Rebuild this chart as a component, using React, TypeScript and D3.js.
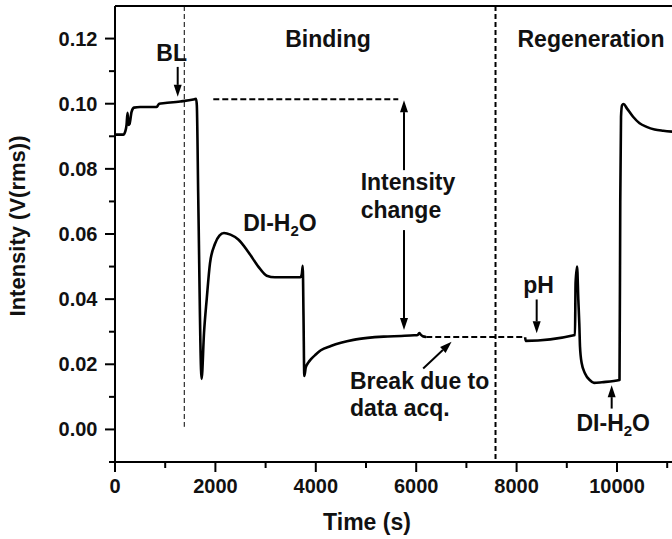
import React from 'react';
import * as d3 from 'd3';

// ---- data (time in s, intensity in V(rms)) ----
const bindingTime = [0, 165, 205, 230, 250, 270, 290, 330, 378, 500, 830, 880, 1000, 1300, 1560, 1615, 1630, 1659, 1725, 1773, 1827, 1892, 1992, 2080, 2171, 2300, 2456, 2655, 2855, 3022, 3187, 3400, 3690, 3720, 3740, 3755, 3771, 3800, 3850, 3900, 4000, 4100, 4300, 4500, 4750, 5030, 5350, 5700, 5960, 6030, 6060, 6090, 6130, 6200];
const bindingIntensity = [0.0905, 0.0905, 0.0915, 0.0935, 0.0972, 0.0935, 0.0938, 0.0975, 0.0988, 0.099, 0.099, 0.1, 0.1002, 0.1007, 0.1013, 0.1015, 0.0995, 0.0704, 0.0155, 0.0296, 0.04, 0.051, 0.057, 0.0595, 0.0603, 0.0598, 0.0583, 0.0545, 0.05, 0.0472, 0.0467, 0.0467, 0.0467, 0.0475, 0.0502, 0.035, 0.0164, 0.019, 0.0205, 0.0215, 0.023, 0.0243, 0.0256, 0.0266, 0.0275, 0.0281, 0.0285, 0.0287, 0.0289, 0.029, 0.0296, 0.0291, 0.0286, 0.0284];

const breakTime = [6200, 8170];
const breakIntensity = [0.0284, 0.0284];

const regenTime = [8170, 8180, 9163, 9175, 9205, 9229, 9249, 9263, 9297, 9363, 9462, 9542, 9700, 10050, 10065, 10080, 10100, 10130, 10200, 10320, 10450, 10590, 10750, 10920, 11200, 11500];
const regenIntensity = [0.0283, 0.0272, 0.029, 0.045, 0.05, 0.04, 0.0325, 0.0254, 0.0203, 0.0172, 0.0151, 0.0143, 0.0145, 0.0152, 0.07, 0.096, 0.0995, 0.0999, 0.0985, 0.096, 0.094, 0.0929, 0.0921, 0.0917, 0.0913, 0.091];

const xMajorTicks = [0, 2000, 4000, 6000, 8000, 10000];
const xMinorTicks = [1000, 3000, 5000, 7000, 9000, 11000];
const yMajorTicks = [0.0, 0.02, 0.04, 0.06, 0.08, 0.1, 0.12];
const yMinorTicks = [0.01, 0.03, 0.05, 0.07, 0.09, 0.11];

const xTitle = 'Time (s)';
const yTitle = 'Intensity (V(rms))';

// annotation anchor positions (data units)
const baselineLine = { t1: 1380, v1: 0.0008 };
const phaseDivider = 7580;
const refLevel = { t0: 1958, t1: 5643, v: 0.1014 };

const W = 672;
const H = 539;
const FONT = "'Liberation Sans', Arial, Helvetica, sans-serif";

const toPairs = (ts: number[], vs: number[]) => ts.map((t, i) => [t, vs[i]] as [number, number]);

export default function App() {
  const x = d3.scaleLinear().domain([0, 12000]).range([115, 717.4]);
  const y = d3.scaleLinear().domain([-0.01, 0.13]).range([462, 6]);

  const line = d3
    .line<[number, number]>()
    .x((d) => x(d[0]))
    .y((d) => y(d[1]))
    .curve(d3.curveMonotoneX);

  const arrow = (t1: number, v1: number, t2: number, v2: number, key: string) => {
    const x1 = x(t1), y1 = y(v1), x2 = x(t2), y2 = y(v2);
    const ang = Math.atan2(y2 - y1, x2 - x1);
    const L = 12, hw = 4;
    const bx = x2 - L * Math.cos(ang), by = y2 - L * Math.sin(ang);
    const px = -Math.sin(ang) * hw, py = Math.cos(ang) * hw;
    return (
      <g key={key}>
        <line x1={x1} y1={y1} x2={bx} y2={by} stroke="#000" strokeWidth={2} />
        <path d={`M${x2},${y2}L${bx + px},${by + py}L${bx - px},${by - py}Z`} fill="#000" />
      </g>
    );
  };

  const textStyle = { fontFamily: FONT, fontWeight: 700, fontSize: 23, fill: '#111' } as const;

  return (
    <svg
      width={W}
      height={H}
      style={{ position: 'absolute', left: 0, top: 0, overflow: 'hidden', background: '#fff' }}
    >
      <defs>
        <clipPath id="plotclip">
          <rect x={0} y={0} width={W} height={H} />
        </clipPath>
      </defs>

      {/* axes frame */}
      <line x1={x(0)} y1={y(0.13)} x2={x(0)} y2={y(-0.01)} stroke="#000" strokeWidth={2} />
      <line x1={109} y1={y(-0.01)} x2={W} y2={y(-0.01)} stroke="#000" strokeWidth={2} />
      <line x1={x(0)} y1={y(0.13)} x2={W} y2={y(0.13)} stroke="#000" strokeWidth={2} />

      {/* y ticks */}
      {yMajorTicks.map((v) => (
        <g key={'ym' + v}>
          <line x1={x(0) - 10} x2={x(0)} y1={y(v)} y2={y(v)} stroke="#000" strokeWidth={2} />
          <text x={97.5} y={y(v) + 7} textAnchor="end" style={{ ...textStyle, fontSize: 20 }}>
            {v.toFixed(2)}
          </text>
        </g>
      ))}
      {yMinorTicks.map((v) => (
        <line key={'yn' + v} x1={x(0) - 6} x2={x(0)} y1={y(v)} y2={y(v)} stroke="#000" strokeWidth={2} />
      ))}

      {/* x ticks */}
      {xMajorTicks.map((t) => (
        <g key={'xm' + t}>
          <line x1={x(t)} x2={x(t)} y1={y(-0.01)} y2={y(-0.01) + 10} stroke="#000" strokeWidth={2} />
          <text x={x(t)} y={493} textAnchor="middle" style={{ ...textStyle, fontSize: 20 }}>
            {t}
          </text>
        </g>
      ))}
      {xMinorTicks.map((t) => (
        <line key={'xn' + t} x1={x(t)} x2={x(t)} y1={y(-0.01)} y2={y(-0.01) + 6} stroke="#000" strokeWidth={2} />
      ))}

      {/* axis titles */}
      <text x={367} y={530} textAnchor="middle" style={textStyle}>
        {xTitle}
      </text>
      <text
        transform={`translate(25,${226}) rotate(-90)`}
        textAnchor="middle"
        style={{ ...textStyle, fontSize: 22 }}
      >
        {yTitle}
      </text>

      {/* vertical dividers */}
      <line
        x1={x(baselineLine.t1)}
        x2={x(baselineLine.t1)}
        y1={y(0.13)}
        y2={y(baselineLine.v1)}
        stroke="#000"
        strokeWidth={1}
        strokeDasharray="5,3"
      />
      <line
        x1={x(phaseDivider)}
        x2={x(phaseDivider)}
        y1={y(0.13)}
        y2={y(-0.01)}
        stroke="#000"
        strokeWidth={2}
        strokeDasharray="5,3"
      />

      {/* reference level */}
      <line
        x1={x(refLevel.t0)}
        x2={x(refLevel.t1)}
        y1={y(refLevel.v)}
        y2={y(refLevel.v)}
        stroke="#000"
        strokeWidth={2}
        strokeDasharray="6,3"
      />

      {/* data */}
      <g clipPath="url(#plotclip)">
        <path d={line(toPairs(bindingTime, bindingIntensity)) || ''} fill="none" stroke="#000" strokeWidth={2.6} strokeLinejoin="round" />
        <path
          d={d3.line<[number, number]>().x((d) => x(d[0])).y((d) => y(d[1]))(toPairs(breakTime, breakIntensity)) || ''}
          fill="none"
          stroke="#000"
          strokeWidth={2}
          strokeDasharray="6,3"
        />
        <path d={line(toPairs(regenTime, regenIntensity)) || ''} fill="none" stroke="#000" strokeWidth={2.6} strokeLinejoin="round" />
      </g>

      {/* labels */}
      <text x={x(4243)} y={y(0.1174)} textAnchor="middle" style={textStyle}>Binding</text>
      <text x={x(9482)} y={y(0.1174)} textAnchor="middle" style={textStyle}>Regeneration</text>
      <text x={x(1128)} y={y(0.1131)} textAnchor="middle" style={textStyle}>BL</text>
      {arrow(1249, 0.1113, 1249, 0.1021, 'a-bl')}

      <text x={x(4894)} y={y(0.0735)} style={textStyle}>Intensity</text>
      <text x={x(4894)} y={y(0.0648)} style={textStyle}>change</text>
      {arrow(5757, 0.0796, 5757, 0.1011, 'a-ic-up')}
      {arrow(5757, 0.0612, 5757, 0.0305, 'a-ic-down')}

      <text x={x(2554)} y={y(0.0609)} style={textStyle}>
        DI-H<tspan fontSize={15} dy={5}>2</tspan><tspan dy={-5}>O</tspan>
      </text>

      <text x={x(4681)} y={y(0.0123)} style={textStyle}>Break due to</text>
      <text x={x(4681)} y={y(0.0041)} style={textStyle}>data acq.</text>
      {arrow(6139, 0.0187, 6705, 0.0269, 'a-break')}

      <text x={x(8133)} y={y(0.0418)} style={textStyle}>pH</text>
      {arrow(8400, 0.0399, 8400, 0.0295, 'a-ph')}

      <text x={x(9193)} y={y(-0.0004)} style={textStyle}>
        DI-H<tspan fontSize={15} dy={5}>2</tspan><tspan dy={-5}>O</tspan>
      </text>
      {arrow(9894, 0.0064, 9894, 0.0136, 'a-di2')}
    </svg>
  );
}
